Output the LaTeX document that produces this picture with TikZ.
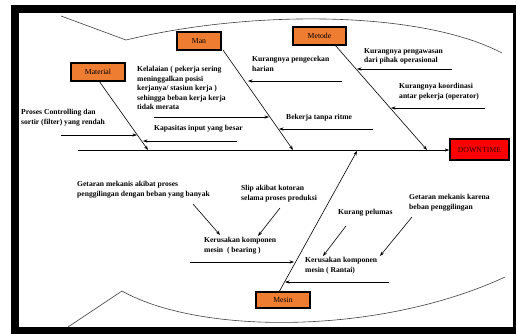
\documentclass[tikz,border=0pt]{standalone}
\usepackage{fontspec}
\setmainfont{Liberation Serif}
\usetikzlibrary{arrows.meta}
\definecolor{boxorange}{HTML}{EE7D32}
\tikzset{
  catbox/.style={draw=black, line width=1.6pt, fill=boxorange, minimum height=18pt, inner sep=0pt, font=\fontsize{7.7}{8}\selectfont},
  lbl/.style={anchor=north west, inner sep=0pt, align=left, font=\fontsize{7.6}{9.6}\selectfont\bfseries},
  bone/.style={line width=0.6pt, -{Stealth[length=4.5pt,width=3.2pt]}},
  sub/.style={line width=0.6pt, -{Stealth[length=4.5pt,width=3.2pt]}},
  outline/.style={line width=0.6pt, draw=black!75}
}
\begin{document}
\begin{tikzpicture}[x=1pt,y=-1pt]
\useasboundingbox (0,0) rectangle (516,334);
% frame
\fill[black] (11,5) rectangle (516,12.8);
\fill[black] (11,5) rectangle (19.4,334);
\fill[black] (11,326.7) rectangle (516,334);
\fill[black] (513,5) rectangle (516,334);
% fish outline
\draw[outline] (61,16) -- (126,40) .. controls (250,10) and (420,10) .. (502,53);
\draw[outline] (68,327) -- (122,291) .. controls (200,335) and (380,335) .. (505,277);
% boxes
\node[catbox, minimum width=54pt] (material) at (98,72) {Material};
\node[catbox, minimum width=44pt] (man) at (199,41) {Man};
\node[catbox, minimum width=53pt] (metode) at (319.5,36) {Metode};
\node[catbox, minimum width=54pt, minimum height=16pt] (mesin) at (283,300) {Mesin};
\node[draw=black, line width=1.6pt, fill=red, minimum width=59pt, minimum height=21pt, inner sep=0pt, font=\fontsize{7.8}{8}\selectfont, text=black!80!red] (down) at (479.5,149.5) {DOWNTIME};
% spine
\coordinate (spineL) at (78,150);
\draw[bone] (spineL) -- (spineL -| down.west);
% bone coordinates
\coordinate (matA) at (99,81);   \coordinate (matB) at (148,150);
\coordinate (manA) at (223,50);  \coordinate (manB) at (293,150);
\coordinate (metA) at (335,45);  \coordinate (metB) at (427,150);
\coordinate (mesA) at (279,292); \coordinate (mesB) at (357,151);
\draw[bone] (matA) -- (matB);
\draw[bone] (manA) -- (manB);
\draw[bone] (metA) -- (metB);
\draw[bone] (mesA) -- (mesB);
% labels
\node[lbl] (t1) at (21,109) {Proses Controlling dan\\sortir (filter) yang rendah};
\node[lbl] (t2) at (154,125) {Kapasitas input yang besar};
\node[lbl] (t3) at (137,66) {Kelalaian ( pekerja sering\\meninggalkan posisi\\kerjanya/ stasiun kerja )\\sehingga beban kerja kerja\\tidak merata};
\node[lbl] (t4) at (252,56) {Kurangnya pengecekan\\harian};
\node[lbl] (t5) at (286,114) {Bekerja tanpa ritme};
\node[lbl] (t6) at (364,48) {Kurangnya pengawasan\\dari pihak operasional};
\node[lbl] (t7) at (399,83) {Kurangnya koordinasi\\antar pekerja (operator)};
\node[lbl] (t8) at (77,181) {Getaran mekanis akibat proses\\penggilingan dengan beban yang banyak};
\node[lbl] (t9) at (241,185) {Slip akibat kotoran\\selama proses produksi};
\node[lbl] (t10) at (204,237) {Kerusakan komponen\\mesin\ \ ( bearing )};
\node[lbl] (t11) at (338,209) {Kurang pelumas};
\node[lbl] (t12) at (409,194) {Getaran mekanis karena\\beban penggilingan};
\node[lbl] (t13) at (305,257) {Kerusakan komponen\\mesin ( Rantai)};
% sub arrows
\coordinate (a1s) at (61,135);  \coordinate (a1e) at (137,135);
\coordinate (a2s) at (237,141); \coordinate (a2e) at (143,141);
\coordinate (a3s) at (154,117); \coordinate (a3e) at (269,117);
\coordinate (a4s) at (342,81);  \coordinate (a4e) at (248,81);
\coordinate (a5s) at (373,129); \coordinate (a5e) at (279,129);
\coordinate (a6s) at (452,69);  \coordinate (a6e) at (357,69);
\coordinate (a7s) at (485,108); \coordinate (a7e) at (391,108);
\coordinate (a8s) at (193,204); \coordinate (a8e) at (220,235);
\coordinate (a9s) at (280,208); \coordinate (a9e) at (258,236);
\coordinate (a10s) at (190,262); \coordinate (a10e) at (294,262);
\coordinate (a11s) at (346,226); \coordinate (a11e) at (323,256);
\coordinate (a12s) at (412,217); \coordinate (a12e) at (380,256);
\coordinate (a13s) at (389,282); \coordinate (a13e) at (285,282);
\foreach \i in {1,...,13} {\draw[sub] (a\i s) -- (a\i e);}
\end{tikzpicture}
\end{document}
